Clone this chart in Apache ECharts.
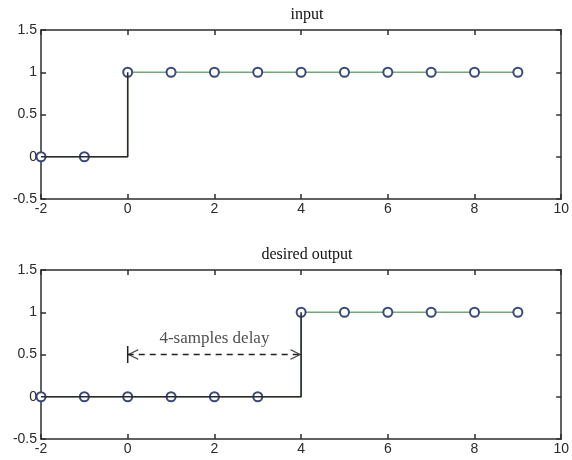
<!DOCTYPE html>
<html><head><meta charset="utf-8">
<script src="https://cdn.jsdelivr.net/npm/echarts@6/dist/echarts.min.js"></script>
<style>html,body{margin:0;padding:0;background:#fff}#c{width:572px;height:460px}</style>
</head><body><div id="c"></div>
<script>
var n = [-2,-1,0,1,2,3,4,5,6,7,8,9];
var inputVals = [0,0,1,1,1,1,1,1,1,1,1,1];
var desiredVals = [0,0,0,0,0,0,1,1,1,1,1,1];
var titles = ['input','desired output'];
var xTicks = [-2,0,2,4,6,8,10];
var yTicks = [-0.5,0,0.5,1,1.5];
var delayStart = 0, delayEnd = 4, delayY = 0.5, delayLabel = '4-samples delay';

function pairs(xs, ys){ return xs.map(function(x,i){return [x, ys[i]];}); }
function stairsPart(xs, ys){
  var k = ys.indexOf(1);
  return pairs(xs.slice(0,k+1), ys.slice(0,k+1));
}

var chart = echarts.init(document.getElementById('c'), null, {renderer:'canvas'});
var frame = '#2e2e2e', lab = '#2a2a2a';
var grids = [
  {left:41, right:9, top:30, height:169},
  {left:41, right:9, top:270, height:169}
];
var xAxes = [], yAxes = [], series = [];
grids.forEach(function(g, gi){
  xAxes.push({type:'value', gridIndex:gi, min:-2, max:10, interval:2, position:'bottom',
    axisLine:{onZero:false, lineStyle:{color:frame, width:1.5}},
    axisTick:{inside:true, length:5, lineStyle:{color:frame, width:1.5}},
    axisLabel:{margin:3, color:lab, fontFamily:'Liberation Sans', fontSize:14},
    splitLine:{show:false}});
  xAxes.push({type:'value', gridIndex:gi, min:-2, max:10, interval:2, position:'top',
    axisLine:{onZero:false, lineStyle:{color:frame, width:1.5}},
    axisTick:{inside:true, length:5, lineStyle:{color:frame, width:1.5}},
    axisLabel:{show:false}, splitLine:{show:false}});
  yAxes.push({type:'value', gridIndex:gi, min:-0.5, max:1.5, interval:0.5, position:'left',
    axisLine:{onZero:false, lineStyle:{color:frame, width:1.5}},
    axisTick:{inside:true, length:5, lineStyle:{color:frame, width:1.5}},
    axisLabel:{margin:4, color:lab, fontFamily:'Liberation Sans', fontSize:14,
      formatter:function(v){return String(v);}},
    splitLine:{show:false}});
  yAxes.push({type:'value', gridIndex:gi, min:-0.5, max:1.5, interval:0.5, position:'right',
    axisLine:{onZero:false, lineStyle:{color:frame, width:1.5}},
    axisTick:{inside:true, length:5, lineStyle:{color:frame, width:1.5}},
    axisLabel:{show:false}, splitLine:{show:false}});
});

[inputVals, desiredVals].forEach(function(vals, gi){
  series.push({type:'line', xAxisIndex:gi*2, yAxisIndex:gi*2, step:'end',
    data: pairs(n, vals), symbol:'emptyCircle', symbolSize:9, silent:true,
    lineStyle:{color:'#6faa78', width:1.3},
    itemStyle:{color:'#3a4a7a', borderColor:'#33457a', borderWidth:1.4}, z:2});
  series.push({type:'line', xAxisIndex:gi*2, yAxisIndex:gi*2, step:'end',
    data: stairsPart(n, vals), symbol:'none', silent:true,
    lineStyle:{color:'#2a2a2a', width:1.6}, z:3});
});

// annotation on second subplot
series.push({type:'line', xAxisIndex:2, yAxisIndex:2, silent:true,
  data:[[delayStart,delayY],[delayEnd,delayY]], symbol:'none',
  lineStyle:{color:'#222', width:1.3, type:[6,5]}, z:4});
series.push({type:'line', xAxisIndex:2, yAxisIndex:2, silent:true,
  data:[[delayStart,delayY-0.1],[delayStart,delayY+0.1]], symbol:'none',
  lineStyle:{color:'#222', width:1.5}, z:4});
series.push({type:'scatter', xAxisIndex:2, yAxisIndex:2, silent:true,
  data:[{value:[delayStart,delayY], symbol:'path://M10,0 L0,5 L10,10 L10,8.6 L2.4,5 L10,1.4 Z', symbolOffset:[5,0]},
        {value:[delayEnd,delayY], symbol:'path://M0,0 L10,5 L0,10 L0,8.6 L7.6,5 L0,1.4 Z', symbolOffset:[-5,0]}],
  symbolSize:[11,11], itemStyle:{color:'#222'}, z:5});
series.push({type:'scatter', xAxisIndex:2, yAxisIndex:2, silent:true,
  data:[[(delayStart+delayEnd)/2, delayY]], symbolSize:0,
  label:{show:true, formatter:delayLabel, position:'top', distance:7,
    color:'#222', fontFamily:'Liberation Serif', fontSize:17}, z:5});

chart.setOption({
  animation:false,
  backgroundColor:'#fff',
  title: titles.map(function(t, i){
    return {text:t, left:302, textAlign:'center', top: i===0 ? 2 : 242,
      textStyle:{fontFamily:'Liberation Serif', fontWeight:'normal', fontSize:16, color:'#111'}};
  }),
  grid: grids,
  xAxis: xAxes,
  yAxis: yAxes,
  series: series
});
</script></body></html>
